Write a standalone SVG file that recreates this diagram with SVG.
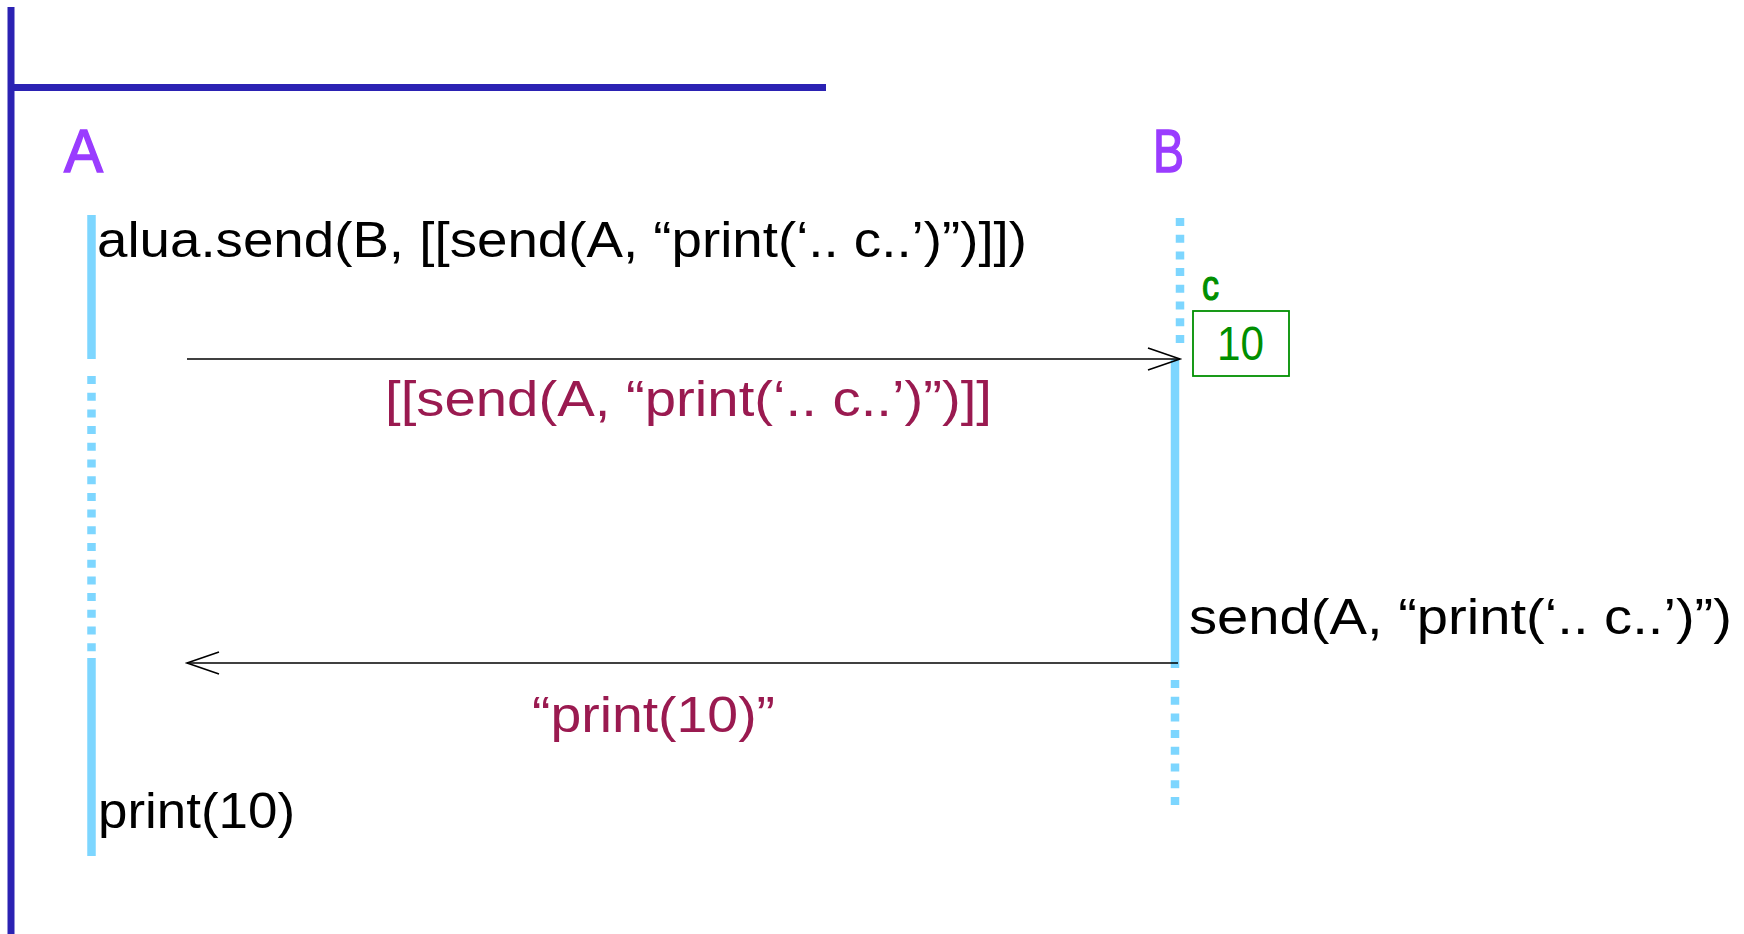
<svg xmlns="http://www.w3.org/2000/svg" width="1744" height="934" viewBox="0 0 1744 934">
  <style>
    text { font-family: "Comic Sans MS", "Liberation Sans", sans-serif; }
    .frame { stroke: #2b22b3; stroke-width: 7; fill: none; }
    .actor { fill: #9a3cff; stroke: #9a3cff; stroke-width: 1.5; font-size: 62px; }
    .code { fill: #000; font-size: 50px; }
    .msg { fill: #9a1a50; font-size: 50px; }
    .var { fill: #008f00; }
    .life { stroke: #7dd6ff; stroke-width: 8.5; fill: none; }
    .idle { stroke-dasharray: 8 8.7; }
    .arrow { stroke: #000; stroke-width: 1.6; fill: none; marker-end: url(#open); }
  </style>
  <defs>
    <marker id="open" markerUnits="userSpaceOnUse" markerWidth="40" markerHeight="30" viewBox="-36 -15 40 30" refX="0" refY="0" orient="auto">
      <path d="M-32,-11 L0,0 L-32,11" fill="none" stroke="#000" stroke-width="1.6"/>
    </marker>
  </defs>

  <!-- enclosing frame -->
  <g id="frame">
    <line class="frame" x1="11" y1="7" x2="11" y2="934"/>
    <line class="frame" x1="8" y1="87.5" x2="826" y2="87.5"/>
  </g>

  <!-- process A -->
  <g id="actor-a">
    <text class="actor" x="64" y="172" textLength="39" lengthAdjust="spacingAndGlyphs">A</text>
    <line class="life" x1="91.5" y1="215" x2="91.5" y2="359"/>
    <line class="life idle" x1="91.5" y1="376" x2="91.5" y2="652"/>
    <line class="life" x1="91.5" y1="658" x2="91.5" y2="856"/>
  </g>

  <!-- process B -->
  <g id="actor-b">
    <text class="actor" x="1153" y="172" textLength="31" lengthAdjust="spacingAndGlyphs">B</text>
    <line class="life idle" x1="1180" y1="218" x2="1180" y2="344"/>
    <line class="life" x1="1175" y1="359" x2="1175" y2="668"/>
    <line class="life idle" x1="1175" y1="680" x2="1175" y2="806"/>
  </g>

  <!-- call made by A -->
  <g id="call-a">
    <text class="code" x="97" y="257" textLength="930" lengthAdjust="spacingAndGlyphs">alua.send(B, [[send(A, “print(‘.. c..’)”)]])</text>
  </g>

  <!-- variable c held by B -->
  <g id="var-c">
    <text class="var" x="1202" y="300" font-size="42" stroke="#008f00" stroke-width="1.2" textLength="17" lengthAdjust="spacingAndGlyphs">c</text>
    <rect x="1193" y="311" width="96" height="65" fill="none" stroke="#008f00" stroke-width="1.8"/>
    <text class="var" x="1217" y="360" font-size="49" textLength="47" lengthAdjust="spacingAndGlyphs">10</text>
  </g>

  <!-- call made by B -->
  <g id="call-b">
    <text class="code" x="1189" y="634" textLength="543" lengthAdjust="spacingAndGlyphs">send(A, “print(‘.. c..’)”)</text>
  </g>

  <!-- output on A -->
  <g id="print-a">
    <text class="code" x="98" y="828" textLength="197" lengthAdjust="spacingAndGlyphs">print(10)</text>
  </g>

  <!-- messages -->
  <g id="connectors">
    <line class="arrow" x1="187" y1="359" x2="1180" y2="359"/>
    <text class="msg" x="385" y="416" textLength="607" lengthAdjust="spacingAndGlyphs">[[send(A, “print(‘.. c..’)”)]]</text>
    <line class="arrow" x1="1178" y1="663" x2="187" y2="663"/>
    <text class="msg" x="532" y="732" textLength="243" lengthAdjust="spacingAndGlyphs">“print(10)”</text>
  </g>
</svg>
